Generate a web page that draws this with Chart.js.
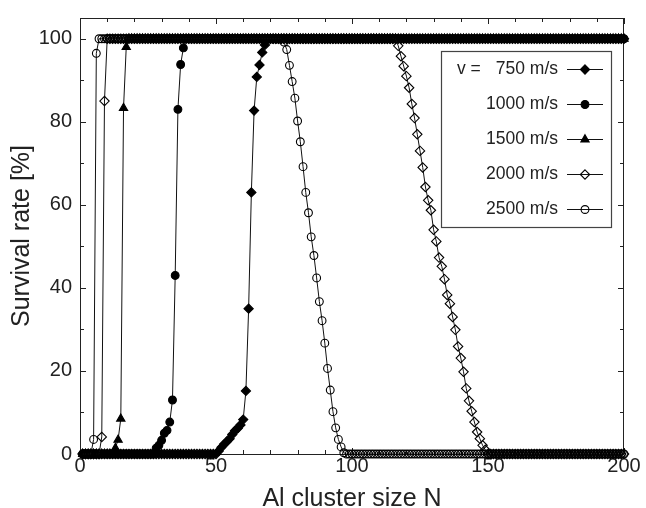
<!DOCTYPE html>
<html>
<head>
<meta charset="utf-8">
<title>Survival rate vs. Al cluster size</title>
<script src="https://cdn.jsdelivr.net/npm/chart.js@4/dist/chart.umd.min.js"></script>
<style>
  html, body { margin: 0; padding: 0; background: #fff; }
  canvas { display: block; }
</style>
</head>
<body>
<canvas id="c" width="646" height="508"></canvas>
<script>
// Cluster sizes N (one simulation per size)
const sizes = [
  1,2,3,4,5,6,7,8,9,10,11,12,13,14,15,16,17,18,19,20,
  21,22,23,24,25,26,27,28,29,30,31,32,33,34,35,36,37,38,39,40,
  41,42,43,44,45,46,47,48,49,50,51,52,53,54,55,56,57,58,59,60,
  61,62,63,64,65,66,67,68,69,70,71,72,73,74,75,76,77,78,79,80,
  81,82,83,84,85,86,87,88,89,90,91,92,93,94,95,96,97,98,99,100,
  101,102,103,104,105,106,107,108,109,110,111,112,113,114,115,116,117,118,119,120,
  121,122,123,124,125,126,127,128,129,130,131,132,133,134,135,136,137,138,139,140,
  141,142,143,144,145,146,147,148,149,150,151,152,153,154,155,156,157,158,159,160,
  161,162,163,164,165,166,167,168,169,170,171,172,173,174,175,176,177,178,179,180,
  181,182,183,184,185,186,187,188,189,190,191,192,193,194,195,196,197,198,199,200
];

// Survival rate [%] for each impact velocity
const rate750 = [
  0,0,0,0,0,0,0,0,0,0,0,0,0,0,0,0,0,0,0,0,
  0,0,0,0,0,0,0,0,0,0,0,0,0,0,0,0,0,0,0,0,
  0,0,0,0,0,0,0,0,0,0,0.7,1.6,2.4,3.0,3.7,4.7,5.6,6.2,7.0,8.3,
  15.2,35,63,82.7,90.8,93.7,96.7,98.5,100,100,100,100,100,100,100,100,100,100,100,100,
  100,100,100,100,100,100,100,100,100,100,100,100,100,100,100,100,100,100,100,100,
  100,100,100,100,100,100,100,100,100,100,100,100,100,100,100,100,100,100,100,100,
  100,100,100,100,100,100,100,100,100,100,100,100,100,100,100,100,100,100,100,100,
  100,100,100,100,100,100,100,100,100,100,100,100,100,100,100,100,100,100,100,100,
  100,100,100,100,100,100,100,100,100,100,100,100,100,100,100,100,100,100,100,100,
  100,100,100,100,100,100,100,100,100,100,100,100,100,100,100,100,100,100,100,100
];

const rate1000 = [
  0,0,0,0,0,0,0,0,0,0,0,0,0,0,0,0,0,0,0,0,
  0,0,0,0,0,0,0,1.4,2.1,3.3,5,5.7,7.7,13,43,83,93.8,97.8,100,100,
  100,100,100,100,100,100,100,100,100,100,100,100,100,100,100,100,100,100,100,100,
  100,100,100,100,100,100,100,100,100,100,100,100,100,100,100,100,100,100,100,100,
  100,100,100,100,100,100,100,100,100,100,100,100,100,100,100,100,100,100,100,100,
  100,100,100,100,100,100,100,100,100,100,100,100,100,100,100,100,100,100,100,100,
  100,100,100,100,100,100,100,100,100,100,100,100,100,100,100,100,100,100,100,100,
  100,100,100,100,100,100,100,100,100,100,100,100,100,100,100,100,100,100,100,100,
  100,100,100,100,100,100,100,100,100,100,100,100,100,100,100,100,100,100,100,100,
  100,100,100,100,100,100,100,100,100,100,100,100,100,100,100,100,100,100,100,100
];

const rate1500 = [
  0,0,0,0,0,0,0,0,0,0,0,0,1.4,3.4,8.5,83.3,98,100,100,100,
  100,100,100,100,100,100,100,100,100,100,100,100,100,100,100,100,100,100,100,100,
  100,100,100,100,100,100,100,100,100,100,100,100,100,100,100,100,100,100,100,100,
  100,100,100,100,100,100,100,100,100,100,100,100,100,100,100,100,100,100,100,100,
  100,100,100,100,100,100,100,100,100,100,100,100,100,100,100,100,100,100,100,100,
  100,100,100,100,100,100,100,100,100,100,100,100,100,100,100,100,100,100,100,100,
  100,100,100,100,100,100,100,100,100,100,100,100,100,100,100,100,100,100,100,100,
  100,100,100,100,100,100,100,100,100,100,100,100,100,100,100,100,100,100,100,100,
  100,100,100,100,100,100,100,100,100,100,100,100,100,100,100,100,100,100,100,100,
  100,100,100,100,100,100,100,100,100,100,100,100,100,100,100,100,100,100,100,100
];

const rate2000 = [
  0,0,0,0,0,0,0,4.1,85,100,100,100,100,100,100,100,100,100,100,100,
  100,100,100,100,100,100,100,100,100,100,100,100,100,100,100,100,100,100,100,100,
  100,100,100,100,100,100,100,100,100,100,100,100,100,100,100,100,100,100,100,100,
  100,100,100,100,100,100,100,100,100,100,100,100,100,100,100,100,100,100,100,100,
  100,100,100,100,100,100,100,100,100,100,100,100,100,100,100,100,100,100,100,100,
  100,100,100,100,100,100,100,100,100,100,100,100,100,100,100,100,98.3,95.8,93.4,91,
  88.2,84.3,80.9,77,73,69,64.3,61.1,58.7,54,51.2,47.3,45.2,42.1,38.3,36.2,33,29.9,25.9,23.1,
  19.8,15.8,12.8,10.3,7.7,5.3,3.7,2.1,1,0,0,0,0,0,0,0,0,0,0,0,
  0,0,0,0,0,0,0,0,0,0,0,0,0,0,0,0,0,0,0,0,
  0,0,0,0,0,0,0,0,0,0,0,0,0,0,0,0,0,0,0,0
];

const rate2500 = [
  0,0,0,0,3.5,96.5,100,100,100,100,100,100,100,100,100,100,100,100,100,100,
  100,100,100,100,100,100,100,100,100,100,100,100,100,100,100,100,100,100,100,100,
  100,100,100,100,100,100,100,100,100,100,100,100,100,100,100,100,100,100,100,100,
  100,100,100,100,100,100,100,100,100,100,100,100,100,100,99.2,97.4,93.6,89.7,85.7,80.2,
  75.2,69.2,63,58.1,52.3,47.8,42.4,36.7,32.1,26.7,20.6,15.4,10.2,6.3,3.5,1.7,0.3,0,0,0,
  0,0,0,0,0,0,0,0,0,0,0,0,0,0,0,0,0,0,0,0,
  0,0,0,0,0,0,0,0,0,0,0,0,0,0,0,0,0,0,0,0,
  0,0,0,0,0,0,0,0,0,0,0,0,0,0,0,0,0,0,0,0,
  0,0,0,0,0,0,0,0,0,0,0,0,0,0,0,0,0,0,0,0,
  0,0,0,0,0,0,0,0,0,0,0,0,0,0,0,0,0,0,0,0
];

const velocityLabels = ['750 m/s', '1000 m/s', '1500 m/s', '2000 m/s', '2500 m/s'];
const legendPrefix = 'v =';
const xTicks = [0, 50, 100, 150, 200];
const yTicks = [0, 20, 40, 60, 80, 100];
const xTitle = 'Al cluster size N';
const yTitle = 'Survival rate [%]';

const FONT = '"Liberation Sans", Arial, Helvetica, sans-serif';
const INK = '#222';

function toPoints(values) {
  return sizes.map((n, i) => ({ x: n, y: values[i] }));
}

// marker style per series: filled diamond, filled circle, filled triangle,
// open diamond, open circle
const markers = [
  { style: 'rectRot', radius: 4.6, fill: '#000' },
  { style: 'circle', radius: 3.9, fill: '#000' },
  { style: 'triangle', radius: 4.8, fill: '#000' },
  { style: 'rectRot', radius: 4.7, fill: 'rgba(0,0,0,0)' },
  { style: 'circle', radius: 3.9, fill: 'rgba(0,0,0,0)' }
];
const series = [rate750, rate1000, rate1500, rate2000, rate2500];

const datasets = series.map((vals, i) => ({
  label: velocityLabels[i],
  data: toPoints(vals),
  borderColor: '#111',
  borderWidth: 1,
  pointStyle: markers[i].style,
  pointRadius: markers[i].radius,
  pointBackgroundColor: markers[i].fill,
  pointBorderColor: '#000',
  pointBorderWidth: 1.1,
  fill: false,
  tension: 0,
  clip: false,
  order: series.length - i
}));

// draw a marker like Chart.js point styles (used for the key)
function drawMarker(ctx, ds, x, y) {
  const r = ds.pointRadius;
  ctx.beginPath();
  if (ds.pointStyle === 'circle') {
    ctx.arc(x, y, r, 0, Math.PI * 2);
  } else if (ds.pointStyle === 'rectRot') {
    ctx.moveTo(x, y - r); ctx.lineTo(x + r, y); ctx.lineTo(x, y + r); ctx.lineTo(x - r, y);
  } else if (ds.pointStyle === 'triangle') {
    const a = 2 * Math.PI / 3;
    ctx.moveTo(x, y - r);
    ctx.lineTo(x + Math.sin(a) * r, y - Math.cos(a) * r);
    ctx.lineTo(x + Math.sin(2 * a) * r, y - Math.cos(2 * a) * r);
  }
  ctx.closePath();
  ctx.fillStyle = ds.pointBackgroundColor;
  ctx.fill();
  ctx.lineWidth = ds.pointBorderWidth;
  ctx.strokeStyle = ds.pointBorderColor;
  ctx.stroke();
}

// plot frame with inward major/minor tick marks on all four sides
const frame = {
  id: 'frame',
  beforeDatasetsDraw(chart) {
    const { ctx, chartArea: a, scales: { x, y } } = chart;
    ctx.save();
    ctx.strokeStyle = '#222';
    ctx.lineWidth = 1;
    ctx.strokeRect(Math.round(a.left) + 0.5, Math.round(a.top) + 0.5,
                   Math.round(a.right - a.left) - 1, Math.round(a.bottom - a.top));
    ctx.beginPath();
    for (let v = 0; v <= 200; v += 10) {
      const len = xTicks.includes(v) ? 6 : 4;
      const px = Math.round(x.getPixelForValue(v)) + 0.5;
      ctx.moveTo(px, a.bottom); ctx.lineTo(px, a.bottom - len);
      ctx.moveTo(px, a.top); ctx.lineTo(px, a.top + len);
    }
    for (let v = 0; v <= 100; v += 10) {
      const len = yTicks.includes(v) ? 6 : 4;
      const py = Math.round(y.getPixelForValue(v)) + 0.5;
      ctx.moveTo(a.left, py); ctx.lineTo(a.left + len, py);
      ctx.moveTo(a.right, py); ctx.lineTo(a.right - len, py);
    }
    ctx.stroke();
    ctx.restore();
  }
};

// boxed key in the upper right of the plot
const keyBox = {
  id: 'keyBox',
  afterDatasetsDraw(chart) {
    const { ctx, chartArea: a } = chart;
    const x0 = Math.round(a.right) - 183, y0 = Math.round(a.top) + 33, w = 170, h = 176;
    ctx.save();
    ctx.fillStyle = '#fff';
    ctx.fillRect(x0, y0, w, h);
    ctx.strokeStyle = '#444';
    ctx.lineWidth = 1.2;
    ctx.strokeRect(x0 + 0.5, y0 + 0.5, w, h);
    ctx.font = '17.5px ' + FONT;
    ctx.textBaseline = 'middle';
    chart.data.datasets.forEach((ds, i) => {
      const yy = y0 + 18.5 + i * 35;
      ctx.fillStyle = INK;
      ctx.textAlign = 'right';
      ctx.fillText(ds.label, x0 + 117, yy);
      if (i === 0) {
        ctx.textAlign = 'left';
        ctx.fillText(legendPrefix, x0 + 16, yy);
      }
      ctx.beginPath();
      ctx.moveTo(x0 + 126, yy); ctx.lineTo(x0 + 162, yy);
      ctx.strokeStyle = ds.borderColor;
      ctx.lineWidth = 1;
      ctx.stroke();
      drawMarker(ctx, ds, x0 + 144, yy);
    });
    ctx.restore();
  }
};

new Chart(document.getElementById('c'), {
  type: 'line',
  data: { datasets },
  options: {
    responsive: false,
    animation: false,
    events: [],
    layout: { padding: { top: 12, right: 22, left: 0, bottom: 0 } },
    plugins: { legend: { display: false }, tooltip: { enabled: false } },
    scales: {
      x: {
        type: 'linear',
        min: 0, max: 200,
        afterBuildTicks: s => { s.ticks = xTicks.map(v => ({ value: v })); },
        afterFit: s => { s.height = 54; },
        grid: { display: false, drawTicks: false },
        border: { display: false },
        ticks: { padding: 2, color: INK, maxRotation: 0, autoSkip: false,
                 font: { family: FONT, size: 20, lineHeight: 1 } },
        title: { display: true, text: xTitle, color: INK,
                 font: { family: FONT, size: 25, lineHeight: 1 },
                 padding: { top: 0, bottom: -4 } }
      },
      y: {
        type: 'linear',
        min: 0, max: 105,
        afterBuildTicks: s => { s.ticks = yTicks.map(v => ({ value: v })); },
        afterFit: s => { s.width = 80; },
        grid: { display: false, drawTicks: false },
        border: { display: false },
        ticks: { padding: 8, color: INK, autoSkip: false,
                 font: { family: FONT, size: 20, lineHeight: 1 } },
        title: { display: true, text: yTitle, color: INK,
                 font: { family: FONT, size: 25, lineHeight: 1 },
                 padding: { top: 10, bottom: 0 } }
      }
    }
  },
  plugins: [frame, keyBox]
});
</script>
</body>
</html>
